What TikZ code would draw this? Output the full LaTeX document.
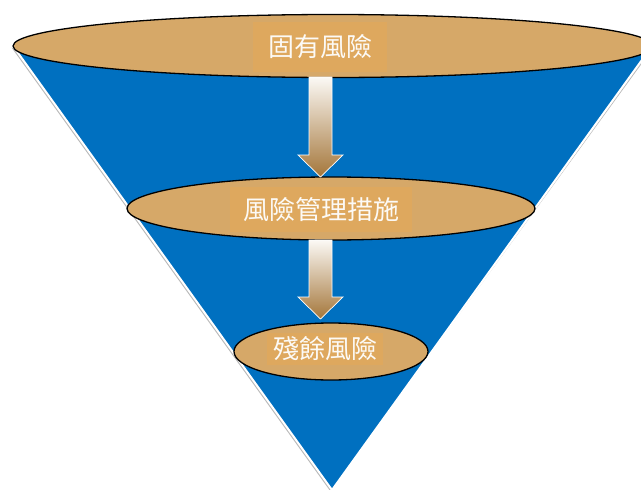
\documentclass[tikz,border=0pt]{standalone}
\usepackage{fontspec}
\newfontfamily\cjk{Noto Sans CJK TC}
\usepackage{tikz}
\usetikzlibrary{shapes, positioning, calc}
\definecolor{funnelblue}{RGB}{0,112,192}
\definecolor{lidtan}{RGB}{214,168,104}
\definecolor{labeltan}{RGB}{222,168,94}
\definecolor{arrowtop}{RGB}{251,249,245}
\definecolor{arrowbot}{RGB}{164,118,58}
\tikzset{
funnel/.style={fill=funnelblue, draw=white, line width=2pt, line join=miter},
lid/.style={ellipse, draw=black, line width=1.3pt, fill=lidtan, inner sep=0pt},
tag/.style={
  rectangle,
  fill=labeltan,
  text=white!94!lidtan,
  font=\cjk\fontsize{26}{30}\selectfont,
  inner sep=0pt
},
flow/.style={top color=arrowtop, bottom color=arrowbot, draw=white, line width=0.7pt},
}

\begin{document}
\begin{tikzpicture}[x=1pt,y=-1pt]
  \useasboundingbox (0,0) rectangle (641,490);
  \clip (0,0) rectangle (641,490);
  \coordinate (tl) at (13,46);
  \coordinate (tr) at (652,46);
  \coordinate (apex) at (332,490);
  % funnel with its shadow
  \fill[gray!55] ($(tl)+(-1.5,1.5)$) -- ($(apex)+(-1.5,1.5)$) -- ($(tr)+(1.5,1.5)$) -- cycle;
  \draw[funnel] (tl) -- (apex) -- (tr) -- cycle;
  % the three levels
  \node[lid, minimum width=640, minimum height=63] (inherent) at (333,46) {};
  \node[lid, minimum width=408, minimum height=63] (control) at (331,208.5) {};
  \node[lid, minimum width=194, minimum height=57] (residual) at (331,351.5) {};
  % arrows between the levels
  \foreach \top/\tip in {77/177, 240/319} {
    \path[flow] (309,\top) -- (332,\top) -- (332,\tip-22) -- (343,\tip-22)
      -- (320.5,\tip) -- (298,\tip-22) -- (309,\tip-22) -- cycle;
  }
  \node[tag, minimum width=134, minimum height=50] (inherentlbl) at (320,47) {固有風險};
  \node[tag, minimum width=182, minimum height=45] (controllbl) at (321,209.5) {風險管理措施};
  \node[tag, minimum width=116, minimum height=32] (residuallbl) at (325,349) {殘餘風險};
\end{tikzpicture}
\end{document}
